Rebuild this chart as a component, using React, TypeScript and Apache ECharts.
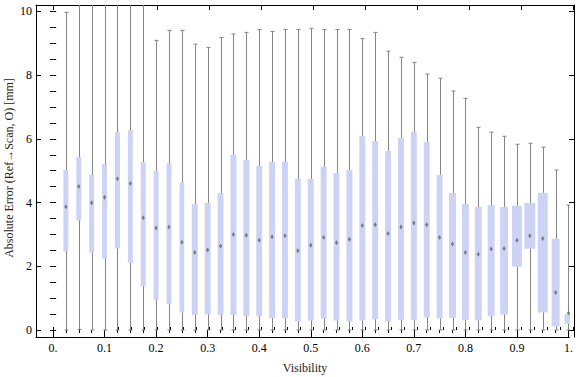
import React, { useEffect, useRef } from "react";
import * as echarts from "echarts";

// Visibility positions of the boxes
const visibility = [
  0.025, 0.05, 0.075, 0.1, 0.125, 0.15, 0.175, 0.2, 0.225, 0.25,
  0.275, 0.3, 0.325, 0.35, 0.375, 0.4, 0.425, 0.45, 0.475, 0.5,
  0.525, 0.55, 0.575, 0.6, 0.625, 0.65, 0.675, 0.7, 0.725, 0.75,
  0.775, 0.8, 0.825, 0.85, 0.875, 0.9, 0.925, 0.95, 0.975, 1.0,
];
const whiskerLow = [
  0, 0.02, 0, 0, 0, 0, 0, 0, 0, 0,
  0, 0, 0, 0, 0, 0, 0, 0, 0, 0,
  0, 0, 0, 0, 0, 0, 0, 0, 0, 0,
  0, 0, 0, 0, 0, 0, 0, 0, 0, 0,
];
const q1 = [
  2.46, 3.44, 2.43, 2.24, 2.56, 2.1, 1.37, 0.95, 0.82, 0.55,
  0.47, 0.49, 0.47, 0.47, 0.43, 0.43, 0.38, 0.38, 0.27, 0.3,
  0.36, 0.3, 0.27, 0.3, 0.34, 0.27, 0.32, 0.32, 0.4, 0.36,
  0.38, 0.32, 0.3, 0.43, 0.49, 1.99, 2.55, 0.55, 0.11, 0.19,
];
const median = [
  3.87, 4.5, 3.99, 4.17, 4.75, 4.6, 3.52, 3.2, 3.23, 2.75,
  2.43, 2.51, 2.64, 3.0, 2.97, 2.82, 2.93, 2.96, 2.49, 2.66,
  2.9, 2.74, 2.85, 3.28, 3.3, 3.03, 3.23, 3.36, 3.3, 2.9,
  2.7, 2.43, 2.38, 2.54, 2.56, 2.82, 2.96, 2.87, 1.18, 0.53,
];
const q3 = [
  5.03, 5.43, 4.87, 5.21, 6.21, 6.28, 5.27, 4.98, 5.23, 4.64,
  3.96, 3.99, 4.3, 5.49, 5.34, 5.15, 5.28, 5.28, 4.74, 4.74,
  5.12, 4.93, 5.03, 6.09, 5.93, 5.62, 6.03, 6.22, 5.9, 4.87,
  4.3, 3.96, 3.86, 3.92, 3.86, 3.9, 3.99, 4.31, 2.86, 0.5,
];
const whiskerHigh = [
  9.97, 11, 11, 11, 11, 11, 11, 9.09, 9.4, 9.4,
  8.97, 8.87, 9.18, 9.29, 9.34, 9.43, 9.37, 9.43, 9.43, 9.47,
  9.43, 9.43, 9.43, 9.15, 9.34, 8.75, 8.56, 8.4, 8.03, 7.9,
  7.5, 7.27, 6.36, 6.21, 6.08, 5.83, 5.86, 5.74, 5.02, 3.92,
];
// relative box widths (in visibility units)
const boxWidth = [
  0.0096, 0.0096, 0.0096, 0.0096, 0.0096, 0.0096, 0.0096, 0.0096, 0.0096, 0.009,
  0.0115, 0.0115, 0.0115, 0.0115, 0.0115, 0.0115, 0.0115, 0.0115, 0.0115, 0.0115,
  0.0115, 0.0115, 0.0115, 0.0115, 0.0115, 0.0115, 0.0115, 0.0115, 0.0115, 0.0115,
  0.0135, 0.0135, 0.0135, 0.0135, 0.0154, 0.0192, 0.0212, 0.0192, 0.0154, 0.0154,
];

const xMajorTicks = [0, 0.1, 0.2, 0.3, 0.4, 0.5, 0.6, 0.7, 0.8, 0.9, 1];
const xMinorTicks = [
  0, 0.025, 0.05, 0.075, 0.1, 0.125, 0.15, 0.175, 0.2, 0.225, 0.25, 0.275,
  0.3, 0.325, 0.35, 0.375, 0.4, 0.425, 0.45, 0.475, 0.5, 0.525, 0.55, 0.575,
  0.6, 0.625, 0.65, 0.675, 0.7, 0.725, 0.75, 0.775, 0.8, 0.825, 0.85, 0.875,
  0.9, 0.925, 0.95, 0.975, 1,
];
const yMajorTicks = [0, 2, 4, 6, 8, 10];
const yMinorTicks = [
  0, 0.5, 1, 1.5, 2, 2.5, 3, 3.5, 4, 4.5, 5, 5.5, 6, 6.5, 7, 7.5, 8, 8.5, 9,
  9.5, 10,
];

const X_MIN = -0.033;
const X_MAX = 1.0015;
const Y_MIN = -0.22;
const Y_MAX = 10.2;

const FONT = "'Liberation Serif', 'Times New Roman', serif";
const BOX_COLOR = "#cdd3f4";
const WHISKER_COLOR = "#858585";
const MEDIAN_COLOR = "#7a7a7a";

const GRID = { left: 36, right: 2, top: 5, bottom: 40 };
const W = 576;
const H = 377;

export default function App() {
  const ref = useRef<HTMLDivElement>(null);

  useEffect(() => {
    if (!ref.current) return;
    const chart = echarts.init(ref.current, null, { renderer: "svg" });

    const data = visibility.map((v, i) => [
      v,
      whiskerLow[i],
      q1[i],
      median[i],
      q3[i],
      whiskerHigh[i],
      boxWidth[i],
    ]);

    const frameLine = {
      show: true,
      onZero: false,
      lineStyle: { color: "#000", width: 1 },
    };

    const xBase = (gridIndex: number, position: string, line: boolean) => ({
      type: "value",
      gridIndex,
      position,
      min: X_MIN,
      max: X_MAX,
      axisLine: line ? { ...frameLine } : { show: false },
      splitLine: { show: false },
    });
    const yBase = (gridIndex: number, position: string, line: boolean) => ({
      type: "value",
      gridIndex,
      position,
      min: Y_MIN,
      max: Y_MAX,
      axisLine: line ? { ...frameLine } : { show: false },
      splitLine: { show: false },
    });

    const xLabelFmt = (v: number) => {
      if (Math.abs(v) < 1e-9) return "0.";
      if (Math.abs(v - 1) < 1e-9) return "1.";
      return v.toFixed(1);
    };

    const tick = (values: number[], length: number) => ({
      show: true,
      inside: true,
      length,
      customValues: values,
      lineStyle: { color: "#000" },
    });

    chart.setOption({
      animation: false,
      grid: [
        { ...GRID, show: false },
        { ...GRID, show: false },
      ],
      xAxis: [
        {
          ...xBase(0, "bottom", true),
          axisTick: tick(xMajorTicks, 5),
          axisLabel: {
            show: true,
            customValues: xMajorTicks,
            formatter: xLabelFmt,
            margin: 5,
            fontFamily: FONT,
            fontSize: 12,
            color: "#000",
          },
        },
        { ...xBase(1, "top", true), axisTick: tick(xMajorTicks, 5), axisLabel: { show: false } },
      ].concat([
        { ...xBase(0, "top", false), axisTick: tick(xMinorTicks, 3), axisLabel: { show: false } } as any,
        { ...xBase(1, "bottom", false), axisTick: tick(xMinorTicks, 3), axisLabel: { show: false } } as any,
      ]),
      yAxis: [
        {
          ...yBase(0, "left", true),
          axisTick: tick(yMajorTicks, 5),
          axisLabel: {
            show: true,
            customValues: yMajorTicks,
            margin: 4,
            fontFamily: FONT,
            fontSize: 12,
            color: "#000",
          },
        },
        { ...yBase(1, "right", true), axisTick: tick(yMajorTicks, 5), axisLabel: { show: false } },
      ].concat([
        { ...yBase(0, "right", false), axisTick: tick(yMinorTicks, 3), axisLabel: { show: false } } as any,
        { ...yBase(1, "left", false), axisTick: tick(yMinorTicks, 3), axisLabel: { show: false } } as any,
      ]),
      graphic: [
        {
          type: "text",
          x: 305,
          y: 368,
          style: {
            text: "Visibility",
            align: "center",
            verticalAlign: "middle",
            font: `12px ${FONT}`,
            fill: "#222",
          },
        },
        {
          type: "text",
          x: 9,
          y: 168,
          rotation: Math.PI / 2,
          style: {
            text: "Absolute Error (Ref\u2192Scan, O) [mm]",
            align: "center",
            verticalAlign: "middle",
            font: `12px ${FONT}`,
            fill: "#222",
          },
        },
      ],
      series: [
        {
          type: "custom",
          xAxisIndex: 0,
          yAxisIndex: 0,
          clip: true,
          data,
          renderItem: (params: any, api: any) => {
            const x = api.value(0);
            const lo = api.value(1);
            const b1 = api.value(2);
            const med = api.value(3);
            const b3 = api.value(4);
            const hi = api.value(5);
            const w = api.size([api.value(6), 0])[0];
            const pLo = api.coord([x, lo]);
            const pHi = api.coord([x, hi]);
            const pQ1 = api.coord([x, b1]);
            const pQ3 = api.coord([x, b3]);
            const pMed = api.coord([x, med]);
            const cx = Math.round(pLo[0]) + 0.5;
            const capW = 2;
            return {
              type: "group",
              children: [
                {
                  type: "line",
                  shape: { x1: cx, y1: pLo[1], x2: cx, y2: pHi[1] },
                  style: { stroke: WHISKER_COLOR, lineWidth: 1 },
                },
                {
                  type: "line",
                  shape: { x1: cx - capW, y1: pLo[1], x2: cx + capW, y2: pLo[1] },
                  style: { stroke: WHISKER_COLOR, lineWidth: 1 },
                },
                {
                  type: "line",
                  shape: { x1: cx - capW, y1: pHi[1], x2: cx + capW, y2: pHi[1] },
                  style: { stroke: WHISKER_COLOR, lineWidth: 1 },
                },
                {
                  type: "rect",
                  shape: {
                    x: pLo[0] - w / 2,
                    y: pQ3[1],
                    width: w,
                    height: pQ1[1] - pQ3[1],
                  },
                  style: { fill: BOX_COLOR },
                },
                {
                  type: "polygon",
                  shape: {
                    points: [
                      [pMed[0], pMed[1] - 2.5],
                      [pMed[0] + 1.6, pMed[1]],
                      [pMed[0], pMed[1] + 2.5],
                      [pMed[0] - 1.6, pMed[1]],
                    ],
                  },
                  style: { fill: MEDIAN_COLOR },
                },
              ],
            };
          },
        },
      ],
    });

    return () => {
      chart.dispose();
    };
  }, []);

  return (
    <div
      ref={ref}
      style={{
        position: "absolute",
        left: 0,
        top: 0,
        width: W,
        height: H,
        background: "#fff",
      }}
    />
  );
}
